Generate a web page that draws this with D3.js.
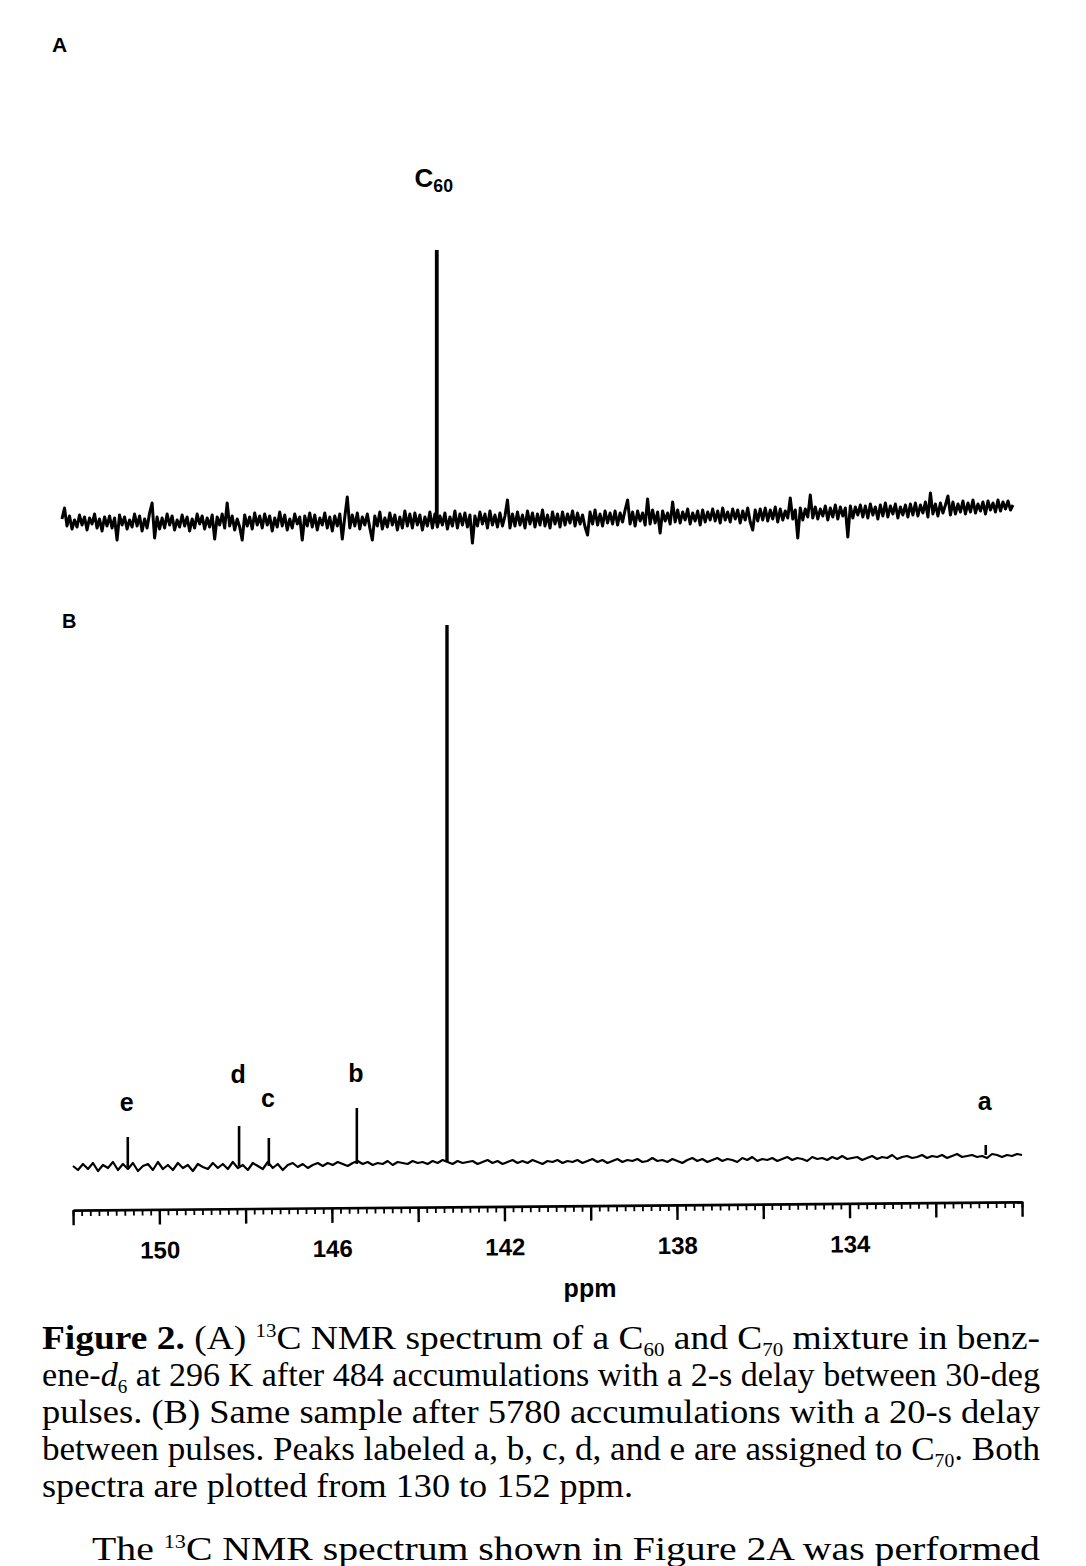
<!DOCTYPE html>
<html>
<head>
<meta charset="utf-8">
<script src="https://cdn.jsdelivr.net/npm/d3@7"></script>
<style>
  body { margin: 0; background: #fff; }
  svg { display: block; }
</style>
</head>
<body>
<div id="chart"></div>
<script>
// spectra are plotted from 152 down to 130 ppm
const ppmStart = 152, ppmEnd = 130;

// panel A: baseline trace (arbitrary intensity units)
const noiseA = [
    3, 14, -4, 6, -7, 2, -5, 7, -3, 5, -8, 4, -2, 8, -6, 3, -9, 5, -4, 6,
    -6, 4, -18, 7, -3, 5, -7, 2, -5, 8, -4, 6, -9, 3, -6, 9, 19, -16, 5, -7,
    4, -6, 8, -3, 6, -8, 2, -5, 7, -4, 5, -9, 3, -6, 8, -2, 6, -7, 4, -5,
    7, -17, 5, -3, 8, -6, 19, -4, 6, -8, 3, -5, -18, 7, -4, 5, -7, 9, -3, 6,
    -6, 8, -3, 6, -9, 4, -5, 10, -4, 7, -8, 3, -6, 8, -2, 5, -18, 6, -4, 9,
    -5, 7, -8, 4, -3, 9, -6, 5, -9, 6, -4, 8, -17, 5, 25, -6, 7, -4, 9, -7,
    5, -3, 8, -6, -18, 6, -4, 10, -7, 4, -5, 9, -3, 7, -8, 5, -6, 11, -4, 8,
    -6, 9, -3, 7, -8, 5, -4, 10, -6, 8, -5, 6, -3, 9, -7, 5, -4, 11, -6, 8,
    -3, 9, -5, 7, -21, 6, -4, 10, -2, 8, -6, 11, -3, 7, -5, 9, -4, 6, 22, -6,
    8, -4, 10, -3, 7, -6, 11, -2, 9, -5, 8, -3, 12, -4, 7, -6, 10, -2, 8, -5,
    10, -3, 8, -1, 11, -4, 9, -2, 7, -5, -13, 10, -2, 12, -3, 8, -4, 11, -1, 9,
    -2, 11, -3, 9, 0, 12, 22, -2, 10, -4, 11, 1, 9, -3, 23, -2, 12, -1, 10, -11,
    11, 1, 9, -2, 20, 0, 12, -1, 10, 2, 13, -2, 9, 1, 11, -3, 12, 0, 10, 2,
    13, 1, 11, -1, 14, 2, 10, 0, 13, 3, 12, -1, 11, 2, 14, 0, -8, 12, 1, 13,
    2, 14, 1, 12, 3, 15, 0, 13, 2, 11, 4, 24, 3, 12, -16, 14, 2, 13, 5, 27,
    4, 15, 3, 13, 6, 16, 2, 14, 5, 17, 3, 15, 6, 14, -15, 16, 4, 15, 7, 17,
    5, 16, 4, 18, 7, 15, 3, 17, 6, 19, 5, 16, 8, 18, 4, 15, 7, 17, 5, 18,
    7, 19, 6, 17, 9, 20, 5, 29, 8, 18, 6, 19, 9, 17, 26, 7, 20, 8, 18, 10,
    21, 8, 19, 10, 22, 9, 18, 11, 20, 8, 21, 12, 19, 10, 22, 11, 20, 13, 21, 12,
    17
];

// panel B: baseline trace
const noiseB = [
    1, -3, 3, -2, 4, -4, 2, -1, 5, -3,
    3, -2, 4, -4, 1, 3, -3, 5, -2, 2,
    -3, 4, -1, 2, -4, 3, 0, -2, 4, -1,
    3, -2, 5, -1, 2, -3, 4, 1, -2, 5,
    -1, 3, -3, 2, 4, 0, 3, -1, 2, 4,
    1, 4, 2, 5, 3, 1, 4, 6, 3, 5,
    2, 4, 3, 6, 2, 5, 4, 3, 6, 4,
    5, 3, 6, 4, 7, 5, 3, 6, 4, 5,
    6, 3, 5, 7, 4, 6, 3, 5, 7, 4,
    6, 4, 7, 5, 3, 6, 5, 7, 4, 6,
    5, 7, 4, 6, 8, 5, 7, 4, 6, 8,
    5, 7, 6, 8, 5, 6, 9, 6, 7, 5,
    8, 6, 4, 7, 9, 6, 8, 5, 7, 9,
    6, 8, 7, 5, 9, 7, 10, 6, 8, 7,
    9, 6, 8, 10, 7, 9, 8, 6, 10, 8,
    9, 7, 10, 8, 11, 8, 9, 10, 7, 9,
    11, 8, 10, 9, 12, 8, 10, 11, 9, 10,
    12, 9, 11, 10, 12, 9, 11, 13, 10, 11,
    12, 10, 11, 9, 13, 12, 10, 12, 11, 13,
    12
];

// peaks
const peakLabelsA = ["C60"];
const peakPpmA = [143.33];
const peakHeightA = [272];
const peakBaseA = [3];

const peakLabelsB = ["e", "d", "c", "b", "C60", "a"];
const peakPpmB = [150.73, 148.15, 147.46, 145.42, 143.33, 130.84];
const peakHeightB = [30, 41, 29, 59, 542, 22];
const peakBaseB = [0, 1, 1, 3, 5, 12];

// axis
const majorTicks = [152, 150, 148, 146, 144, 142, 140, 138, 136, 134, 132, 130];
const labelledTicks = [150, 146, 142, 138, 134];
const axisTitle = "ppm";

const width = 1086, height = 1566;
const svg = d3.select("#chart").append("svg")
    .attr("width", width)
    .attr("height", height)
    .style("background", "#fff");

const sans = "'Liberation Sans', Arial, sans-serif";
const serif = "'Liberation Serif', 'Times New Roman', serif";

// scales
const xA = d3.scaleLinear().domain([ppmStart, ppmEnd]).range([62, 1013]);
const yA = d3.scaleLinear().domain([0, 272]).range([522, 250]);
const xB = d3.scaleLinear().domain([ppmStart, ppmEnd]).range([73, 1022]);
const yB = d3.scaleLinear().domain([0, 542]).range([1167, 625]);

// evenly spaced acquisition points across the plotted window
function ppmAt(i, n) {
    return ppmStart - i * (ppmStart - ppmEnd) / (n - 1);
}

function drawSpectrum(g, x, y, noise, ppm, heights, bases, lineW, peakW) {
    const line = d3.line()
        .x((d, i) => x(ppmAt(i, noise.length)))
        .y(d => y(d));
    g.append("path")
        .datum(noise)
        .attr("d", line)
        .attr("fill", "none")
        .attr("stroke", "#000")
        .attr("stroke-width", lineW)
        .attr("stroke-linejoin", "round");
    g.selectAll(".peak")
        .data(ppm)
        .enter().append("line")
        .attr("class", "peak")
        .attr("x1", d => x(d))
        .attr("x2", d => x(d))
        .attr("y1", (d, i) => y(bases[i]))
        .attr("y2", (d, i) => y(heights[i]))
        .attr("stroke", "#000")
        .attr("stroke-width", (d, i) => heights[i] > 200 ? peakW + 0.8 : peakW);
}

function peakLabel(g, text, px, py, size) {
    const t = g.append("text")
        .attr("x", px)
        .attr("y", py)
        .attr("text-anchor", "middle")
        .style("font-family", sans)
        .style("font-weight", "bold")
        .style("font-size", size + "px");
    if (text === "C60") {
        t.append("tspan").text("C");
        t.append("tspan").attr("dy", 5).style("font-size", (size * 0.68) + "px").text("60");
    } else {
        t.text(text);
    }
}

// ---- panel A ----
const gA = svg.append("g");
gA.append("text").attr("x", 52).attr("y", 52)
    .style("font-family", sans).style("font-weight", "bold").style("font-size", "21px")
    .text("A");
drawSpectrum(gA, xA, yA, noiseA, peakPpmA, peakHeightA, peakBaseA, 3, 3);
const liftA = [63];
peakLabelsA.forEach((l, i) => {
    peakLabel(gA, l, xA(peakPpmA[i]) - 3, yA(peakHeightA[i]) - liftA[i], 26);
});

// ---- panel B ----
const gB = svg.append("g");
gB.append("text").attr("x", 62).attr("y", 628)
    .style("font-family", sans).style("font-weight", "bold").style("font-size", "20px")
    .text("B");
drawSpectrum(gB, xB, yB, noiseB, peakPpmB, peakHeightB, peakBaseB, 2.2, 2.6);
// vertical lift of each letter above its peak top (layout only)
const liftB = [26, 43, 31, 26, null, 35];
peakLabelsB.forEach((l, i) => {
    if (l === "C60") return;
    peakLabel(gB, l, xB(peakPpmB[i]) - 1, yB(peakHeightB[i]) - liftB[i], 25);
});

// ---- ppm axis ----
const axisY = 1206;
const gAx = svg.append("g")
    .attr("transform", `rotate(-0.5, 548, ${axisY}) translate(0, ${axisY})`);

const minorAxis = d3.axisBottom(xB)
    .tickValues(d3.range(130, 152.001, 0.2))
    .tickSize(6)
    .tickFormat("");
gAx.append("g").call(minorAxis)
    .call(g => g.select(".domain").remove())
    .selectAll("line").attr("stroke", "#000").attr("stroke-width", 1.8);

const majorAxis = d3.axisBottom(xB)
    .tickValues(majorTicks)
    .tickSize(15)
    .tickSizeOuter(0)
    .tickFormat(d => labelledTicks.includes(d) ? d : "");
const majG = gAx.append("g").call(majorAxis);
majG.select(".domain").attr("stroke", "#000").attr("stroke-width", 2.6);
majG.selectAll(".tick line").attr("stroke", "#000").attr("stroke-width", 2.4);
majG.selectAll(".tick text")
    .attr("y", 49)
    .attr("dy", 0)
    .attr("fill", "#000")
    .style("font-family", sans)
    .style("font-weight", "bold")
    .style("font-size", "24px");

svg.append("text")
    .attr("x", 590).attr("y", 1297)
    .attr("text-anchor", "middle")
    .style("font-family", sans).style("font-weight", "bold").style("font-size", "25px")
    .text(axisTitle);

// ---- caption ----
const capSize = 34;
function capLine(yPos, x0, len, parts) {
    const t = svg.append("text")
        .attr("x", x0).attr("y", yPos)
        .style("font-family", serif)
        .style("font-size", capSize + "px")
        .attr("fill", "#000");
    if (len) t.attr("textLength", len).attr("lengthAdjust", "spacingAndGlyphs");
    parts.forEach(p => {
        const s = t.append("tspan").text(p.t);
        if (p.sup) s.attr("dy", -12).style("font-size", "19px");
        if (p.sub) s.attr("dy", 7).style("font-size", "19px");
        if (p.back) s.attr("dy", p.back);
        if (p.b) s.style("font-weight", "bold");
        if (p.i) s.style("font-style", "italic");
    });
}

capLine(1349, 42, 998, [
    { t: "Figure 2.", b: true },
    { t: "  (A) " },
    { t: "13", sup: true },
    { t: "C NMR spectrum of a C", back: 12 },
    { t: "60", sub: true },
    { t: " and C", back: -7 },
    { t: "70", sub: true },
    { t: " mixture in benz-", back: -7 }
]);
capLine(1386, 42, 998, [
    { t: "ene-" },
    { t: "d", i: true },
    { t: "6", sub: true },
    { t: " at 296 K after 484 accumulations with a 2-s delay between 30-deg", back: -7 }
]);
capLine(1423, 42, 998, [
    { t: "pulses.  (B) Same sample after 5780 accumulations with a 20-s delay" }
]);
capLine(1460, 42, 998, [
    { t: "between pulses.  Peaks labeled a, b, c, d, and e are assigned to C" },
    { t: "70", sub: true },
    { t: ".  Both", back: -7 }
]);
capLine(1497, 42, 591, [
    { t: "spectra are plotted from 130 to 152 ppm." }
]);
capLine(1560, 92, 948, [
    { t: "The " },
    { t: "13", sup: true },
    { t: "C NMR spectrum shown in Figure 2A was performed", back: 12 }
]);
</script>
</body>
</html>
